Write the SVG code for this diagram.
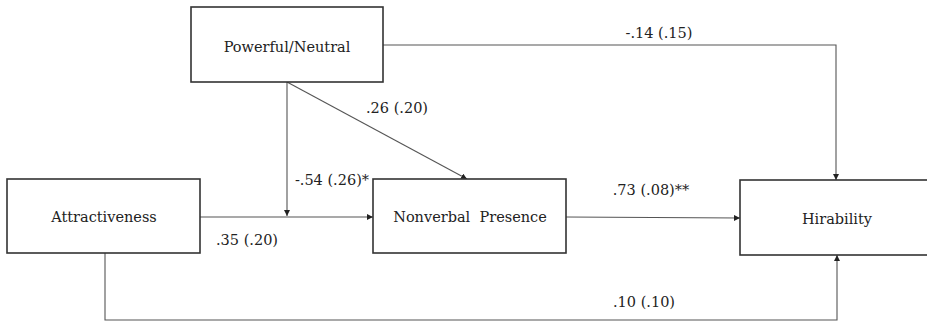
<svg xmlns="http://www.w3.org/2000/svg" width="927" height="323" viewBox="0 0 927 323">
<style>
.box{fill:#fff;stroke:#333;stroke-width:1.6}
text{font-family:'DejaVu Serif','Liberation Serif',serif;font-size:14.5px;fill:#222;text-anchor:middle}
.ln{fill:none;stroke:#555;stroke-width:1.1}
</style>
<defs>
<marker id="ah" viewBox="0 0 10 10" refX="10" refY="5" markerWidth="6" markerHeight="6" orient="auto" markerUnits="userSpaceOnUse">
<path d="M0,0 L10,5 L0,10 z" fill="#222"/>
</marker>
</defs>
<rect width="927" height="323" fill="#fff"/>
<g id="connectors">
<path class="ln" d="M383,45 H836 V180" marker-end="url(#ah)"/>
<path class="ln" d="M287,82 L467,179" marker-end="url(#ah)"/>
<path class="ln" d="M287,82 V216" marker-end="url(#ah)"/>
<path class="ln" d="M200,217 H373" marker-end="url(#ah)"/>
<path class="ln" d="M566,217 L740,218" marker-end="url(#ah)"/>
<path class="ln" d="M105,253 V320 H837 V255" marker-end="url(#ah)"/>
<text x="659" y="38">-.14 (.15)</text>
<text x="397" y="113">.26 (.20)</text>
<text x="332" y="185">-.54 (.26)*</text>
<text x="247" y="245">.35 (.20)</text>
<text x="651" y="195">.73 (.08)**</text>
<text x="644" y="307">.10 (.10)</text>
</g>
<g id="powerful">
<rect class="box" x="191" y="7" width="192" height="75"/>
<text x="287" y="52">Powerful/Neutral</text>
</g>
<g id="attractiveness">
<rect class="box" x="7" y="179" width="193" height="74"/>
<text x="104" y="222">Attractiveness</text>
</g>
<g id="nonverbal">
<rect class="box" x="373" y="179" width="193" height="74"/>
<text x="470" y="222" xml:space="preserve">Nonverbal  Presence</text>
</g>
<g id="hirability">
<rect class="box" x="740" y="180" width="200" height="75"/>
<text x="837" y="224">Hirability</text>
</g>
</svg>
